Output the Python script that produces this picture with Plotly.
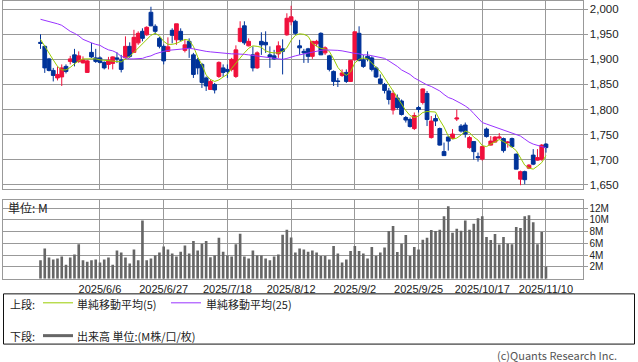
import plotly.graph_objects as go

# ---- categories (trading days) ----
may = [19, 20, 21, 22, 23, 26, 27, 28, 29, 30]
jun = [2, 3, 4, 5, 6, 9, 10, 11, 12, 13, 16, 17, 18, 19, 20, 23, 24, 25, 26, 27, 30]
jul = [1, 2, 3, 4, 7, 8, 9, 10, 11, 14, 15, 16, 17, 18, 22, 23, 24, 25, 28, 29, 30, 31]
aug = [1, 4, 5, 6, 7, 8, 12, 13, 14, 15, 18, 19, 20, 21, 22, 25, 26, 27, 28, 29]
sep = [1, 2, 3, 4, 5, 8, 9, 10, 11, 12, 16, 17, 18, 19, 22, 24, 25, 26, 29, 30]
oct_ = [1, 2, 3, 6, 7, 8, 9, 10, 14, 15, 16, 17, 20, 21, 22, 23, 24, 27, 28, 29, 30, 31]
nov = [4, 5, 6, 7, 10]
dates = ([f"2025/5/{d}" for d in may] + [f"2025/6/{d}" for d in jun] +
         [f"2025/7/{d}" for d in jul] + [f"2025/8/{d}" for d in aug] +
         [f"2025/9/{d}" for d in sep] + [f"2025/10/{d}" for d in oct_] +
         [f"2025/11/{d}" for d in nov])

opens = [1934, 1926, 1901, 1878, 1863, 1865, 1886, 1896, 1909, 1896,
         1893, 1874, 1914, 1903, 1903, 1894, 1890, 1892, 1903, 1899,
         1903, 1926, 1914, 1933, 1956, 1949, 1994, 1966, 1942, 1926,
         1916, 1958, 1939, 1956, 1918, 1936, 1909, 1899, 1890, 1863,
         1840, 1850, 1866, 1883, 1880, 1880, 1866, 1936, 1967, 1927,
         1909, 1883, 1936, 1934, 1909, 1907, 1911, 1921, 1949, 1975,
         1976, 1927, 1916, 1921, 1906, 1931, 1952, 1913, 1907, 1876,
         1857, 1868, 1874, 1856, 1899, 1952, 1899, 1906, 1903, 1883,
         1861, 1850, 1837, 1799, 1823, 1817, 1784, 1780, 1762, 1804,
         1814, 1832, 1744, 1782, 1762, 1716, 1745, 1742, 1781, 1767,
         1769, 1724, 1736, 1706, 1701, 1761, 1729, 1735, 1743, 1742,
         1734, 1742, 1711, 1661, 1676, 1683, 1709, 1699, 1700, 1731]
highs = [1950, 1928, 1903, 1883, 1886, 1890, 1890, 1907, 1921, 1916,
         1906, 1899, 1933, 1921, 1906, 1896, 1905, 1906, 1914, 1909,
         1946, 1934, 1959, 1956, 1962, 1966, 2005, 1970, 1945, 1930,
         1944, 1962, 1971, 1962, 1939, 1942, 1913, 1903, 1893, 1866,
         1860, 1853, 1896, 1890, 1890, 1903, 1928, 1976, 1976, 1942,
         1926, 1916, 1954, 1956, 1926, 1919, 1936, 1940, 1992, 2007,
         1979, 1939, 1921, 1923, 1936, 1939, 1954, 1926, 1909, 1878,
         1863, 1880, 1880, 1899, 1955, 1966, 1909, 1916, 1906, 1886,
         1870, 1853, 1843, 1838, 1830, 1820, 1787, 1784, 1794, 1807,
         1842, 1837, 1787, 1790, 1764, 1734, 1747, 1761, 1800, 1771,
         1774, 1747, 1737, 1714, 1728, 1764, 1747, 1747, 1753, 1744,
         1737, 1744, 1712, 1678, 1678, 1691, 1721, 1721, 1731, 1733]
lows = [1921, 1873, 1876, 1856, 1858, 1847, 1872, 1890, 1886, 1893,
        1892, 1873, 1903, 1893, 1892, 1880, 1880, 1880, 1893, 1874,
        1901, 1903, 1913, 1929, 1936, 1947, 1966, 1950, 1922, 1890,
        1915, 1932, 1929, 1936, 1914, 1903, 1863, 1870, 1843, 1837,
        1839, 1832, 1863, 1865, 1863, 1876, 1863, 1934, 1929, 1926,
        1876, 1881, 1909, 1913, 1883, 1899, 1903, 1870, 1947, 1968,
        1949, 1909, 1893, 1893, 1901, 1926, 1909, 1909, 1876, 1847,
        1845, 1865, 1853, 1855, 1898, 1896, 1883, 1896, 1876, 1863,
        1850, 1832, 1810, 1790, 1800, 1788, 1774, 1764, 1759, 1794,
        1810, 1767, 1742, 1767, 1728, 1708, 1718, 1741, 1777, 1754,
        1744, 1722, 1700, 1696, 1698, 1744, 1728, 1734, 1741, 1714,
        1724, 1724, 1681, 1649, 1651, 1681, 1689, 1698, 1698, 1714]
closes = [1932, 1883, 1878, 1868, 1870, 1883, 1876, 1901, 1894, 1907,
          1899, 1897, 1905, 1896, 1894, 1883, 1898, 1905, 1901, 1880,
          1926, 1906, 1944, 1952, 1942, 1964, 1967, 1956, 1926, 1897,
          1925, 1948, 1971, 1939, 1929, 1923, 1870, 1883, 1854, 1847,
          1856, 1839, 1894, 1874, 1876, 1900, 1919, 1962, 1933, 1936,
          1883, 1913, 1929, 1929, 1905, 1901, 1927, 1916, 1982, 1985,
          1952, 1923, 1913, 1906, 1936, 1936, 1909, 1923, 1880, 1856,
          1856, 1873, 1856, 1898, 1955, 1898, 1886, 1901, 1880, 1865,
          1852, 1838, 1820, 1832, 1804, 1790, 1779, 1766, 1788, 1800,
          1841, 1780, 1777, 1777, 1729, 1708, 1737, 1751, 1783, 1757,
          1751, 1744, 1716, 1704, 1726, 1746, 1737, 1745, 1745, 1718,
          1735, 1726, 1681, 1676, 1660, 1689, 1691, 1704, 1729, 1724]

ma5 = [1940, 1926, 1911, 1899, 1886, 1879, 1879, 1884, 1891, 1897,
       1901, 1901, 1901, 1901, 1899, 1898, 1897, 1896, 1895, 1895,
       1901, 1906, 1914, 1923, 1931, 1939, 1948, 1952, 1947, 1936,
       1930, 1930, 1932, 1936, 1940, 1938, 1926, 1905, 1889, 1869,
       1860, 1856, 1859, 1865, 1870, 1882, 1893, 1903, 1913, 1922,
       1927, 1926, 1924, 1917, 1914, 1913, 1913, 1916, 1923, 1938,
       1948, 1951, 1950, 1946, 1932, 1926, 1922, 1921, 1916, 1901,
       1884, 1874, 1868, 1875, 1893, 1900, 1903, 1901, 1893, 1884,
       1876, 1863, 1850, 1837, 1825, 1810, 1798, 1788, 1784, 1787,
       1794, 1796, 1796, 1795, 1779, 1765, 1747, 1741, 1743, 1749,
       1757, 1754, 1745, 1739, 1728, 1726, 1731, 1735, 1740, 1736,
       1731, 1725, 1718, 1703, 1689, 1683, 1681, 1687, 1694, 1708]
ma25 = [1980, 1978, 1976, 1974, 1971, 1968, 1962, 1956, 1952, 1947,
        1940, 1936, 1933, 1930, 1928, 1923, 1919, 1917, 1913, 1906,
        1903, 1901, 1901, 1901, 1902, 1905, 1907, 1911, 1914, 1916,
        1918, 1919, 1920, 1921, 1922, 1922, 1921, 1919, 1917, 1916,
        1915, 1914, 1913, 1913, 1912, 1911, 1911, 1911, 1910, 1909,
        1908, 1907, 1906, 1905, 1904, 1903, 1901, 1900, 1902, 1905,
        1907, 1909, 1911, 1913, 1915, 1917, 1918, 1919, 1919, 1919,
        1918, 1917, 1915, 1914, 1912, 1911, 1909, 1909, 1907, 1905,
        1904, 1902, 1897, 1892, 1886, 1879, 1874, 1870, 1863, 1858,
        1854, 1849, 1846, 1841, 1837, 1830, 1824, 1821, 1817, 1812,
        1807, 1801, 1792, 1782, 1774, 1771, 1768, 1765, 1761, 1759,
        1755, 1753, 1750, 1747, 1741, 1735, 1731, 1728, 1726, 1724]

volume_m = [3.15, 5.12, 3.6, 3.26, 3.43, 3.8, 2.4, 3.6, 4.1, 5.85,
            3.15, 2.9, 3.15, 3.26, 2.76, 3.26, 3.6, 2.4, 4.78, 4.44,
            3.6, 2.6, 4.95, 3.15, 9.9, 3.15, 3.43, 3.94, 4.44, 5.5,
            4.95, 4.27, 3.8, 4.6, 5.63, 4.27, 6.41, 4.78, 5.96, 6.41,
            3.66, 3.94, 6.98, 4.6, 3.94, 3.8, 5.85, 7.65, 3.77, 3.43,
            4.78, 3.94, 3.94, 3.43, 3.15, 3.8, 4.1, 7.48, 8.33, 7.03,
            4.44, 5.12, 4.95, 4.6, 4.78, 4.44, 3.88, 3.88, 3.26, 5.57,
            4.28, 2.76, 3.26, 4.73, 5.57, 4.73, 4.28, 3.43, 5.4, 3.88,
            4.44, 5.29, 8.1, 8.95, 4.56, 5.96, 7.43, 3.88, 5.4, 4.95,
            6.64, 6.98, 8.27, 8.1, 8.33, 10.64, 12.33, 7.82, 8.5, 8.16,
            9.9, 8.33, 9.34, 10.3, 10.64, 7.09, 6.58, 7.6, 5.8, 7.09,
            5.96, 5.85, 8.78, 8.61, 10.64, 10.81, 9.62, 5.85, 7.93, 2.02]

date_ticks = ["2025/6/6", "2025/6/27", "2025/7/18", "2025/8/12",
              "2025/9/2", "2025/9/25", "2025/10/17", "2025/11/10"]
price_ticks = [1650, 1700, 1750, 1800, 1850, 1900, 1950, 2000]
vol_ticks = [2, 4, 6, 8, 10, 12]
vol_tick_text = ["2M", "4M", "6M", "8M", "10M", "12M"]

# ---- styles ----
W, H = 638, 362
RED = "#F0103C"
BLUE = "#003399"
GREEN = "#99CC00"
PURPLE = "#9933FF"
VOLGRAY = "#666666"
GRID = "#999999"
FONT = "Noto Sans CJK JP"
NUMFONT = "Liberation Sans"
TXT = "#222222"


def fx(p):
    return p / W


def fy(p):
    return 1 - p / H


XDOM = [fx(3), fx(582.5)]
XRANGE = [-8.83, 127.6]

fig = go.Figure()
fig.add_trace(go.Candlestick(
    x=dates, open=opens, high=highs, low=lows, close=closes,
    increasing=dict(line=dict(color=RED, width=1), fillcolor=RED),
    decreasing=dict(line=dict(color=BLUE, width=1), fillcolor=BLUE),
    whiskerwidth=0, xaxis="x", yaxis="y", showlegend=False))
fig.add_trace(go.Scatter(x=dates, y=ma5, mode="lines",
                         line=dict(color=GREEN, width=1),
                         xaxis="x", yaxis="y", showlegend=False))
fig.add_trace(go.Scatter(x=dates, y=ma25, mode="lines",
                         line=dict(color=PURPLE, width=1),
                         xaxis="x", yaxis="y", showlegend=False))
fig.add_trace(go.Bar(x=dates, y=volume_m, width=0.62,
                     marker=dict(color=VOLGRAY, line=dict(width=0)),
                     xaxis="x2", yaxis="y2", showlegend=False))

axis_common = dict(showgrid=True, gridcolor=GRID, gridwidth=1,
                   showline=True, mirror=True, linecolor=GRID, linewidth=1,
                   zeroline=False, fixedrange=True)

fig.update_layout(
    width=W, height=H, autosize=False,
    margin=dict(l=0, r=0, t=0, b=0),
    paper_bgcolor="white", plot_bgcolor="white",
    font=dict(family=FONT, size=11, color=TXT),
    showlegend=False, boxgap=0.12, boxgroupgap=0.0,
    xaxis=dict(domain=XDOM, anchor="y", type="category", range=XRANGE,
               tickvals=date_ticks, showticklabels=False, ticks="",
               rangeslider=dict(visible=False), **axis_common),
    yaxis=dict(domain=[fy(190), fy(1)], anchor="x", side="right",
               range=[1641.5, 2016.5], tickvals=price_ticks, tickformat=",d",
               ticks="outside", ticklen=4, tickcolor=GRID,
               tickfont=dict(family=NUMFONT, size=11.5, color=TXT),
               **axis_common),
    xaxis2=dict(domain=XDOM, anchor="y2", type="category", range=XRANGE,
                tickvals=date_ticks, showticklabels=True, ticks="",
                tickfont=dict(family=NUMFONT, size=11, color=TXT),
                tickangle=0, **axis_common),
    yaxis2=dict(domain=[fy(280.3), fy(201)], anchor="x2", side="right",
                range=[0, 13.4], tickvals=vol_ticks, ticktext=vol_tick_text,
                ticks="outside", ticklen=4, tickcolor=GRID,
                tickfont=dict(family=NUMFONT, size=10, color=TXT),
                **axis_common),
)

shapes = [
    dict(type="rect", xref="paper", yref="paper", x0=fx(3.5), x1=fx(634.5),
         y0=fy(346), y1=fy(295.5), line=dict(color="#111111", width=1)),
    dict(type="line", xref="paper", yref="paper", x0=fx(43), x1=fx(73),
         y0=fy(304.5), y1=fy(304.5), line=dict(color=GREEN, width=1)),
    dict(type="line", xref="paper", yref="paper", x0=fx(171), x1=fx(201),
         y0=fy(304.5), y1=fy(304.5), line=dict(color=PURPLE, width=1)),
    dict(type="line", xref="paper", yref="paper", x0=fx(43), x1=fx(73),
         y0=fy(337.5), y1=fy(337.5), line=dict(color=VOLGRAY, width=3)),
]
fig.update_layout(shapes=shapes)


def ann(text, x, y, anchor="left", size=11, color=TXT):
    return dict(text=text, xref="paper", yref="paper", x=fx(x), y=fy(y),
                xanchor=anchor, yanchor="middle", showarrow=False,
                borderpad=0,
                font=dict(family=FONT, size=size, color=color))


fig.update_layout(annotations=[
    ann("単位: M", 7, 209, size=12),
    ann("上段:", 9, 305.5),
    ann("単純移動平均(5)", 76, 305.5),
    ann("単純移動平均(25)", 205, 305.5),
    ann("下段:", 9, 337.5),
    ann("出来高 単位:(M株/口/枚)", 76, 337.5),
    ann("(c)Quants Research Inc.", 618, 357, anchor="right", color="#555555"),
])

fig.write_html("out.html",
               config={"displayModeBar": False, "staticPlot": True},
               post_script="document.body.style.margin='0';"
                           "document.body.style.overflow='hidden';")
